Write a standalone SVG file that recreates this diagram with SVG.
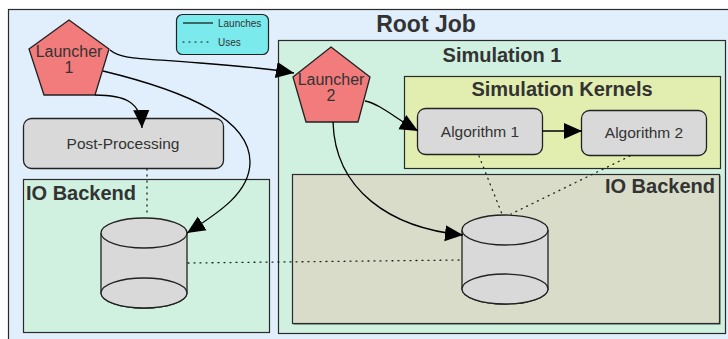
<svg xmlns="http://www.w3.org/2000/svg" width="728" height="339" viewBox="0 0 728 339">
<style>
.title{font-family:"Liberation Sans",Arial,sans-serif;font-weight:bold;fill:#333333}
.lbl{font-family:"Liberation Sans",Arial,sans-serif;fill:#333333}
.box{stroke:#2b2b2b;stroke-width:1.2}
.node{fill:#d9d9d9;stroke:#222;stroke-width:1.3}
.pent{fill:#f27b7b;stroke:#222;stroke-width:1.3}
.launch{fill:none;stroke:#000;stroke-width:1.3}
.uses{fill:none;stroke:#222;stroke-width:1.3;stroke-dasharray:1 5;stroke-linecap:round}
</style>
<defs>
<marker id="ahb" viewBox="0 0 10 10" refX="10" refY="5" markerWidth="18" markerHeight="18" markerUnits="userSpaceOnUse" orient="auto">
<path d="M0,0.5 L10,5 L0,9.5 Z" fill="#000"/>
</marker>
</defs>
<g id="root-job">
<rect x="8.5" y="9.5" width="740" height="340" fill="#e0effb" class="box"/>
<text x="426" y="32" text-anchor="middle" font-size="23" class="title">Root Job</text>
</g>
<g id="legend">
<rect x="176.5" y="14.5" width="92" height="40" rx="6" fill="#7aeaec" stroke="#222" stroke-width="1.2"/>
<line x1="183" y1="23" x2="213" y2="23" stroke="#111" stroke-width="1.2"/>
<text x="218" y="27" font-size="10" class="lbl">Launches</text>
<line x1="183" y1="42" x2="211" y2="42" stroke="#111" stroke-width="1.2" stroke-dasharray="1 5" stroke-linecap="round"/>
<text x="218" y="46" font-size="10" class="lbl">Uses</text>
</g>
<g id="simulation-1">
<rect x="278.5" y="40.5" width="447" height="293" fill="#d0f0e0" class="box"/>
<text x="502" y="62" text-anchor="middle" font-size="20" class="title">Simulation 1</text>
</g>
<g id="io-backend-left">
<rect x="23.5" y="179.5" width="246" height="153" fill="#d0f0e0" class="box"/>
<text x="26" y="200" font-size="20" class="title">IO Backend</text>
</g>
<g id="io-backend-right">
<rect x="293.5" y="175.5" width="427" height="149" fill="#555" stroke="none"/>
<rect x="292.5" y="174.5" width="427" height="149" fill="#d8dcc8" class="box"/>
<text x="715" y="193" text-anchor="end" font-size="20" class="title">IO Backend</text>
</g>
<g id="simulation-kernels">
<rect x="404.5" y="76.5" width="316" height="92" fill="#e2eeb0" class="box"/>
<text x="562" y="96" text-anchor="middle" font-size="20" class="title">Simulation Kernels</text>
</g>
<g id="launcher-1">
<polygon points="69,20 109,49 95,95 44,95 29,49" class="pent"/>
<text x="69" y="57" text-anchor="middle" font-size="16" class="lbl">Launcher</text>
<text x="69" y="73" text-anchor="middle" font-size="16" class="lbl">1</text>
</g>
<g id="launcher-2">
<polygon points="331,47 370,77 358,122 306,122 293,77" class="pent"/>
<text x="331" y="85" text-anchor="middle" font-size="16" class="lbl">Launcher</text>
<text x="331" y="101" text-anchor="middle" font-size="16" class="lbl">2</text>
</g>
<g id="post-processing">
<rect x="23.5" y="118.5" width="200" height="50" rx="8" class="node"/>
<text x="123" y="149" text-anchor="middle" font-size="15.5" class="lbl">Post-Processing</text>
</g>
<g id="algorithm-1">
<rect x="417.5" y="108.5" width="125" height="46" rx="8" class="node"/>
<text x="480" y="137" text-anchor="middle" font-size="15.5" class="lbl">Algorithm 1</text>
</g>
<g id="algorithm-2">
<rect x="581.5" y="110.5" width="125" height="45" rx="8" class="node"/>
<text x="644" y="138" text-anchor="middle" font-size="15.5" class="lbl">Algorithm 2</text>
</g>
<g id="storage-left">
<path d="M101,233 L101,293 A43,15 0 0 0 187,293 L187,233" class="node"/>
<ellipse cx="144" cy="293" rx="43" ry="15" class="node"/>
<ellipse cx="144" cy="233" rx="43" ry="15" class="node"/>
</g>
<g id="storage-right">
<path d="M462,230 L462,289 A43,15 0 0 0 548,289 L548,230" class="node"/>
<ellipse cx="505" cy="289" rx="43" ry="15" class="node"/>
<ellipse cx="505" cy="230" rx="43" ry="15" class="node"/>
</g>
<g id="connectors">
<path d="M110,50 C122,60 140,58 200,63 C240,66 265,68 294,73" class="launch" marker-end="url(#ahb)"/>
<path d="M95,95 C125,95 141,102 142,128" class="launch" marker-end="url(#ahb)"/>
<path d="M103,71 C190,92 250,120 250,162 C250,192 220,212 187,233" class="launch" marker-end="url(#ahb)"/>
<path d="M365,101 C380,104 395,118 418,131" class="launch" marker-end="url(#ahb)"/>
<path d="M542,131 L582,131" class="launch" marker-end="url(#ahb)"/>
<path d="M333,122 C335,190 390,228 463,235" class="launch" marker-end="url(#ahb)"/>
<path d="M147,169 L147,217" class="uses"/>
<path d="M188,263 L461,260" class="uses"/>
<path d="M479,156 L502,214" class="uses"/>
<path d="M630,156 L511,214" class="uses"/>
</g>
</svg>
